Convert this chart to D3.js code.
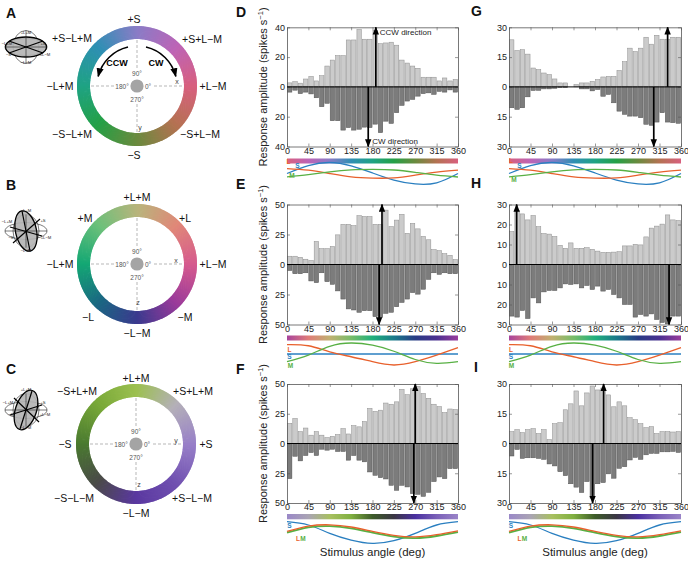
<!DOCTYPE html>
<html><head><meta charset="utf-8">
<script src="https://cdn.jsdelivr.net/npm/d3@7"></script>
<style>body{margin:0;background:#fff}text{font-family:"Liberation Sans",Arial,Helvetica,sans-serif}</style>
</head><body><svg id="c" width="688" height="561"></svg>
<script>
// ---------------- DATA ----------------
const angleTicks = [0,45,90,135,180,225,270,315,360];
const binWidth = 11.25;

// panel D (plane A)
const D_ccw = [2.7,3.5,2.5,5.3,7,4,7.5,14,18,21,21,31.5,31.5,38.5,32,32,38,29,29.5,30,28,18,16,14,12.5,6.5,6.5,6.5,4,6,4,5];
const D_cw  = [3.5,2.2,4.5,3.5,4.7,7.3,13.3,11,22.7,22.7,29,27.3,29,28.4,27,27.3,25,30.7,23,24.5,17.3,12.4,9.5,8.4,6.2,4.5,4,5,3,3.5,2,3.5];
// panel G (plane A)
const G_ccw = [23.7,18.3,18.7,16.5,9.5,8.7,7,6.2,4,2,2,0,1.2,2,2,2.8,3.7,5,5.3,5.3,8.3,12.7,19.5,17.8,19.5,25,21.5,26,24,24,25,25];
const G_cw  = [10.5,11.3,10.5,5,1.8,1.7,1,1,0.7,0.3,0.3,0,0,1,1,2,1.3,4.7,3.8,8,12.2,13.8,14.7,14.7,15.5,18.8,19.3,17.7,13,17.7,18,18.3];
// panel E (plane B)
const E_ccw = [6.9,6.9,6,4.4,3.3,19.2,13.2,13.2,15,24.7,33.5,33.5,32.4,40.7,40,40,33.5,33.5,45.3,31.6,37,41.8,26,34.3,29.7,23.4,20.6,12.4,11.5,9,7.7,4.1];
const E_cw  = [5,7.7,7.7,6.9,13.7,15.1,6.9,14.3,16.5,22,28.8,37,37.9,39.8,38.5,38.5,43.4,44,40.7,39.8,35.2,31.6,28.8,23.4,24.7,20.6,12.4,6.9,8.2,6.9,7.7,7.7];
// panel H (plane B)
const H_ccw = [16.5,27,25.3,22.3,24.5,18.9,15.5,15.2,14,9.6,8.1,10.8,8.1,8.1,8.4,7.6,6.7,6.1,6.1,6.2,6.4,9.3,9.3,10.1,9.8,13.8,18.2,19.2,20.2,24.8,22.3,22];
const H_cw  = [25.8,26.3,23,27,16.7,19.2,13.7,13,13,11.7,9.7,10,9.7,11.7,10.5,12.5,10.8,13.3,12.5,15,16.7,20,20,26.3,25,25.8,24.7,27.5,29,29.7,25.8,25.8];
// panel F (plane C)
const F_ccw = [17,21,10,13,7,10,7,5,6,7.5,12.5,8,15,14,18.5,29.5,27,28,34,33,35,45.5,41,46,48,42,38,33,31,26,29,28.5];
const F_cw  = [29.5,10.7,14.6,10.1,7.6,10.1,4.8,5.6,4.8,6.7,6.7,14,10.1,14,15.4,23.9,26.7,28.7,29.8,35.1,39.3,35.1,36.5,42.1,42.7,44.4,41,32,28.1,29.5,21.1,21.1];
// panel I (plane C)
const I_ccw = [6,7,5.5,7,7.5,5,7,2,10,10.5,17,20,26.5,19,25.5,29,27,28,24.5,18.5,21,19,13,12,10,8,8.5,5,6,6,5.8,6];
const I_cw  = [6.3,3,7.5,7.2,7.2,7.5,8,10.3,11.3,14.2,16.2,20.3,22,24.7,19.2,27.5,20.3,19.7,15.3,17.5,12.5,11.7,8.3,7,8,5.7,5,5,4.2,4.2,4,4.5];

// preferred directions (deg): [CCW, CW]
const D_dir = [187,171], G_dir = [332,303], E_dir = [200,194], H_dir = [16,335], F_dir = [270,267], I_dir = [198,175];

// cone-contrast curves sampled at angleTicks (normalized)
const coneA_L = [0.45,0.3,0.0,-0.3,-0.42,-0.4,-0.15,0.12,0.3];
const coneA_M = [-0.3,-0.1,0.15,0.33,0.37,0.32,0.1,-0.15,-0.32];
const coneA_S = [0,0.72,1,0.7,0.05,-0.6,-0.95,-0.85,0];
const coneB_L = [0.85,0.75,0.2,-0.25,-0.7,-1.0,-0.7,-0.1,0.57];
const coneB_M = [-0.7,-0.1,0.7,1.0,0.8,0.25,-0.5,-0.85,-0.7];
const coneB_S = [0,0,0,0,0,0,0,0,0];
const coneC_LM = [0,0.48,0.6,0.4,0,-0.36,-0.5,-0.3,0.05];
const coneC_S = [1.0,0.7,-0.06,-0.67,-0.97,-0.73,-0.06,0.7,1.0];

// colours of the stimulus planes at angleTicks
const colorsA = ["#d8607e","#bd64b6","#8a7cc6","#2f8fb4","#1fa384","#24a046","#6a8a3e","#b47252","#d8607e"];
const colorsB = ["#d65a8e","#e08878","#b8b47c","#6cc07a","#14a874","#1a6882","#3a3a8e","#9a3a9a","#d65a8e"];
const barColorsB = ["#a8449c","#e07c78","#c0b070","#78bc68","#20b07c","#1a7a8a","#283c84","#4a3090","#9a3c9c"];
const colorsC = ["#9880c8","#b4b0b8","#9cc050","#78a838","#4a7a30","#4a4a48","#5a38a0","#7050b0","#9880c8"];
const barColorsC = ["#9a88c8","#aaa4b4","#a8c060","#80b040","#3e5c2a","#3a3644","#4a30a0","#7a60b8","#9a84c8"];

const ringLabelsA = ["+L−M","+S+L−M","+S","+S−L+M","−L+M","−S−L+M","−S","−S+L−M"];
const ringLabelsB = ["+L−M","+L","+L+M","+M","−L+M","−L","−L−M","−M"];
const ringLabelsC = ["+S","+S+L+M","+L+M","−S+L+M","−S","−S−L−M","−L−M","+S−L−M"];
const iconLabels = ["+L+M","−L+M","+S","−S","+L−M","−L−M"];

// ---------------- DRAW ----------------
const svg = d3.select("#c");
const defs = svg.append("defs");
defs.append("marker").attr("id","ah").attr("viewBox","0 0 10 8").attr("refX",9).attr("refY",4)
  .attr("markerWidth",8).attr("markerHeight",7).attr("markerUnits","userSpaceOnUse").attr("orient","auto")
  .append("path").attr("d","M0,0L10,4L0,8Z").attr("fill","#000");
defs.append("marker").attr("id","ah2").attr("viewBox","0 0 10 8").attr("refX",9).attr("refY",4)
  .attr("markerWidth",9).attr("markerHeight",8).attr("markerUnits","userSpaceOnUse").attr("orient","auto")
  .append("path").attr("d","M0,0L10,4L0,8Z").attr("fill","#000");

// panel letters
const letters = [["A",6,18],["B",6,190],["C",6,374],["D",236,17],["E",236,189],["F",236,374],["G",471,16],["H",471,188],["I",474,372]];
svg.selectAll("text.lt").data(letters).join("text").attr("class","lt")
  .attr("x",d=>d[1]).attr("y",d=>d[2]).text(d=>d[0])
  .attr("font-size",14).attr("font-weight","bold").attr("fill","#111");

// ---- rings ----
const labelOffsets = {
  A: [[76,0],[65,-47],[-3,-67],[-65,-48],[-77,0],[-65,48],[-3,69],[63,48]],
  B: [[76,0],[48,-46],[0,-67],[-52,-46],[-77,0],[-49,53],[0,69],[48,53]],
  C: [[70,0],[57,-53],[0,-66],[-59,-53],[-71,0],[-62,54],[0,69],[56,54]]
};
function ring(cx, cy, colors, labels, offs, axLabels){
  const g = svg.append("g").attr("transform",`translate(${cx},${cy})`);
  const col = d3.scaleLinear().domain(angleTicks).range(colors).interpolate(d3.interpolateRgb);
  const arc = d3.arc().innerRadius(47).outerRadius(60);
  const rad = Math.PI/180;
  g.append("g").selectAll("path").data(d3.range(0,360,1)).join("path")
    .attr("d", t => arc({startAngle:(90-t-1.5)*rad, endAngle:(90-t+0.3)*rad}))
    .attr("fill", t => col(t+0.5));
  const dash = [[[-46,0],[-22,0]],[[17,0],[46,0]],[[0,-46],[0,-17]],[[0,18],[0,46]]];
  g.append("g").selectAll("line").data(dash).join("line")
    .attr("x1",d=>d[0][0]).attr("y1",d=>d[0][1]).attr("x2",d=>d[1][0]).attr("y2",d=>d[1][1])
    .attr("stroke","#9a9a9a").attr("stroke-width",0.7).attr("stroke-dasharray","3,2");
  g.append("circle").attr("r",6.6).attr("fill","#a4a4a4");
  const cl = [["90°",0,-12],["270°",0,14],["180°",-15,1],["0°",11,1]];
  g.append("g").selectAll("text").data(cl).join("text").attr("x",d=>d[1]).attr("y",d=>d[2]).attr("dy","0.35em")
    .attr("text-anchor","middle").attr("font-size",6.5).attr("fill","#555").text(d=>d[0]);
  g.append("g").selectAll("text").data(axLabels).join("text").attr("x",d=>d[1]).attr("y",d=>d[2]).attr("dy","0.35em")
    .attr("text-anchor","middle").attr("font-size",7).attr("fill","#444").text(d=>d[0]);
  g.append("g").selectAll("text").data(labels).join("text")
    .attr("x",(d,i)=>offs[i][0]).attr("y",(d,i)=>offs[i][1]).attr("dy","0.35em")
    .attr("text-anchor","middle").attr("font-size",10.5).attr("fill","#111").text(d=>d);
  return g;
}
const gA = ring(137,86,colorsA,ringLabelsA,labelOffsets.A,[["x",40,-4],["y",3,42]]);
ring(137,264,colorsB,ringLabelsB,labelOffsets.B,[["x",39,-3],["z",1,39]]);
ring(136,444,colorsC,ringLabelsC,labelOffsets.C,[["y",40,-3],["z",3,41]]);

// CCW / CW arrows in ring A
function arcPath(r, a0, a1){ // visual degrees
  const p = d3.path(); const rad=Math.PI/180;
  p.moveTo(r*Math.cos(a0*rad), -r*Math.sin(a0*rad));
  p.arc(0,0,r,-a0*rad,-a1*rad,a1>a0);
  return p.toString();
}
gA.append("path").attr("d",arcPath(40,103,166)).attr("fill","none").attr("stroke","#000").attr("stroke-width",1.6).attr("marker-end","url(#ah2)");
gA.append("path").attr("d",arcPath(40,77,14)).attr("fill","none").attr("stroke","#000").attr("stroke-width",1.6).attr("marker-end","url(#ah2)");
gA.append("text").attr("x",-20).attr("y",-20).attr("text-anchor","middle").attr("font-size",9).attr("font-weight","bold").text("CCW");
gA.append("text").attr("x",19).attr("y",-20).attr("text-anchor","middle").attr("font-size",9).attr("font-weight","bold").text("CW");

// ---- small sphere icons ----
function icon(cx, cy, sh, chords, lblPos){
  const g = svg.append("g").attr("transform",`translate(${cx},${cy})`);
  g.append("ellipse").attr("rx",21).attr("ry",8.5).attr("fill","none").attr("stroke","#222").attr("stroke-width",0.6);
  g.append("ellipse").attr("rx",13).attr("ry",16.5).attr("fill","none").attr("stroke","#222").attr("stroke-width",0.6);
  g.append("ellipse").attr("rx",sh[0]).attr("ry",sh[1]).attr("transform",`rotate(${sh[2]})`)
    .attr("fill","#b2b2b2").attr("fill-opacity",0.9).attr("stroke","#000").attr("stroke-width",1.3);
  g.append("line").attr("x1",-21).attr("x2",21).attr("stroke","#222").attr("stroke-width",0.6);
  g.append("line").attr("y1",-16.5).attr("y2",16.5).attr("stroke","#222").attr("stroke-width",0.6);
  g.append("g").selectAll("line").data(chords).join("line")
    .attr("x1",d=>d[0]).attr("y1",d=>d[1]).attr("x2",d=>d[2]).attr("y2",d=>d[3])
    .attr("stroke","#000").attr("stroke-width",1.2);
  g.append("g").selectAll("text").data(iconLabels).join("text")
    .attr("x",(d,i)=>lblPos[i][0]).attr("y",(d,i)=>lblPos[i][1]).attr("dy","0.35em")
    .attr("text-anchor","middle").attr("font-size",4.2).attr("fill","#222").text(d=>d);
}
const iconLbl = [[0,-14.5],[-19,-3.5],[17,-3.5],[-17.5,8],[19,8],[0,15.5]];
icon(26,47,[20.5,10,0],[[-17,-6,17,6],[-17,6,17,-6]],iconLbl);
icon(26,231,[10.5,20.5,-12],[[-4,-20,4,20],[-16,-4,16,5],[14,-12,-13,12]],[[0,-20],[-19,-9],[17,-10],[-15,7],[20,7],[0,20]]);
icon(26,410,[10.5,20.5,18],[[6,-19,-6,19],[-16,5,16,-5],[-12,-12,13,12]],[[0,-20],[-18,-7],[17,-7],[-15,5],[19,5],[0,18]]);

// ---- bar charts ----
const rows = [
  {top:27.3, bot:146.5, cb:158.5, cbh:5, cone:173.5},
  {top:204.5, bot:324.5, cb:335.5, cbh:5, cone:354},
  {top:384, bot:503, cb:514, cbh:5.3, cone:532.7}
];
const cols = [{x0:287,x1:458},{x0:509,x1:681}];
const LCOL="#e8602c", MCOL="#58b044", SCOL="#2a7fc0";

const charts = [
  {id:"D",r:0,c:0,max:40,step:20,up:D_ccw,dn:D_cw,dir:D_dir,bar:colorsA,plane:"A",
   cl:[["L",288.5,161.5,LCOL],["S",297.5,166,SCOL],["M",292,176,MCOL]]},
  {id:"G",r:0,c:1,max:30,step:15,up:G_ccw,dn:G_cw,dir:G_dir,bar:colorsA,plane:"A",
   cl:[["L",511,160.5,LCOL],["S",519.5,166,SCOL],["M",514,180,MCOL]]},
  {id:"E",r:1,c:0,max:50,step:25,up:E_ccw,dn:E_cw,dir:E_dir,bar:barColorsB,plane:"B",
   cl:[["L",289.5,349.5,LCOL],["S",289.5,356.5,SCOL],["M",290.5,366,MCOL]]},
  {id:"H",r:1,c:1,max:30,step:10,up:H_ccw,dn:H_cw,dir:H_dir,bar:barColorsB,plane:"B",
   cl:[["L",511,349.5,LCOL],["S",511,356.5,SCOL],["M",511.5,366,MCOL]]},
  {id:"F",r:2,c:0,max:50,step:25,up:F_ccw,dn:F_cw,dir:F_dir,bar:barColorsC,plane:"C",
   cl:[["S",289.5,526,SCOL],["L",298,538.5,LCOL],["M",303,538.5,MCOL]]},
  {id:"I",r:2,c:1,max:30,step:15,up:I_ccw,dn:I_cw,dir:I_dir,bar:barColorsC,plane:"C",
   cl:[["S",511,526,SCOL],["L",519.5,538.5,LCOL],["M",524.5,538.5,MCOL]]}
];
const cones = {
  A:[[coneA_S,SCOL,1.3,0],[coneA_L,LCOL,1.3,0],[coneA_M,MCOL,1.3,0]],
  B:[[coneB_S,SCOL,1.3,0],[coneB_L,LCOL,1.3,0],[coneB_M,MCOL,1.3,0]],
  C:[[coneC_S,SCOL,1.3,0],[coneC_LM,MCOL,1.8,0],[coneC_LM,LCOL,1.3,-1.3]]
};

charts.forEach(ch=>{
  const R=rows[ch.r], C=cols[ch.c];
  const x = d3.scaleLinear().domain([0,360]).range([C.x0,C.x1]);
  const y = d3.scaleLinear().domain([-ch.max,ch.max]).range([R.bot,R.top]);
  const g = svg.append("g");
  const yt = d3.range(-ch.max, ch.max+0.001, ch.step);
  const bw = x(binWidth)-x(0);
  g.append("g").selectAll("rect").data(ch.up).join("rect")
    .attr("x",(d,i)=>x(i*binWidth)+0.45).attr("width",bw-0.9)
    .attr("y",d=>y(d)).attr("height",d=>y(0)-y(d))
    .attr("fill","#cbcbcb").attr("stroke","#8e8e8e").attr("stroke-width",0.5);
  g.append("g").selectAll("rect").data(ch.dn).join("rect")
    .attr("x",(d,i)=>x(i*binWidth)+0.45).attr("width",bw-0.9)
    .attr("y",y(0)).attr("height",d=>y(-d)-y(0))
    .attr("fill","#7c7c7c").attr("stroke","#505050").attr("stroke-width",0.5);
  // axes / frame
  const fmt = d=>Math.abs(d);
  const ax = (a)=>a.tickSizeOuter(0);
  const gb = g.append("g").attr("transform",`translate(0,${R.bot})`).call(ax(d3.axisBottom(x).tickValues(angleTicks).tickSize(-3).tickPadding(1)));
  const gt = g.append("g").attr("transform",`translate(0,${R.top})`).call(ax(d3.axisTop(x).tickValues(angleTicks).tickSize(-3).tickFormat("")));
  const gl = g.append("g").attr("transform",`translate(${C.x0},0)`).call(ax(d3.axisLeft(y).tickValues(yt).tickSize(-3).tickPadding(2).tickFormat(fmt)));
  const gr = g.append("g").attr("transform",`translate(${C.x1},0)`).call(ax(d3.axisRight(y).tickValues(yt).tickSize(-3).tickFormat("")));
  [gb,gt,gl,gr].forEach(a=>{
    a.select(".domain").attr("stroke","#555").attr("stroke-width",0.8);
    a.selectAll(".tick line").attr("stroke","#555").attr("stroke-width",0.6);
    a.selectAll("text").attr("font-size",9).attr("fill","#222").attr("font-family",'"Liberation Sans",Arial,sans-serif');
  });
  // zero line
  g.append("line").attr("x1",C.x0).attr("x2",C.x1).attr("y1",y(0)).attr("y2",y(0)).attr("stroke","#000").attr("stroke-width",1);
  // arrows
  g.append("line").attr("x1",x(ch.dir[0])).attr("x2",x(ch.dir[0])).attr("y1",y(0)).attr("y2",y(ch.max))
    .attr("stroke","#000").attr("stroke-width",1.7).attr("marker-end","url(#ah)");
  g.append("line").attr("x1",x(ch.dir[1])).attr("x2",x(ch.dir[1])).attr("y1",y(0)).attr("y2",y(-ch.max))
    .attr("stroke","#000").attr("stroke-width",1.7).attr("marker-end","url(#ah)");
  if(ch.id==="D"){
    g.append("text").attr("x",x(ch.dir[0])+4).attr("y",y(ch.max)+7.5).attr("font-size",8).attr("fill","#222").text("CCW direction");
    g.append("text").attr("x",x(ch.dir[1])+4).attr("y",y(-ch.max)-2.5).attr("font-size",8).attr("fill","#222").text("CW direction");
  }
  // colour bar
  const gid = "grad"+ch.id;
  const lg = defs.append("linearGradient").attr("id",gid).attr("x1","0%").attr("x2","100%");
  lg.selectAll("stop").data(angleTicks).join("stop").attr("offset",d=>(d/360*100)+"%").attr("stop-color",(d,i)=>ch.bar[i]);
  g.append("rect").attr("x",C.x0).attr("width",C.x1-C.x0).attr("y",R.cb).attr("height",R.cbh).attr("fill",`url(#${gid})`);
  // cone curves
  const yc = d3.scaleLinear().domain([-1,1]).range([R.cone+11,R.cone-11]);
  cones[ch.plane].forEach(([vals,color,w,off])=>{
    const line = d3.line().x((d,i)=>x(angleTicks[i])).y(d=>yc(d)+off).curve(d3.curveNatural);
    g.append("path").attr("d",line(vals)).attr("fill","none").attr("stroke",color).attr("stroke-width",w);
  });
  g.append("g").selectAll("text").data(ch.cl).join("text").attr("x",d=>d[1]).attr("y",d=>d[2]).attr("dy","0.35em")
    .attr("text-anchor","middle").attr("font-size",6.5).attr("font-weight","bold").attr("fill",d=>d[3]).text(d=>d[0]);
  // y label for left column
  if(ch.c===0){
    const t = svg.append("text").attr("transform",`translate(263,${(R.top+R.bot)/2}) rotate(-90)`)
      .attr("text-anchor","middle").attr("dy","0.35em").attr("font-size",11).attr("fill","#222");
    t.append("tspan").text("Response amplitude (spikes s");
    t.append("tspan").attr("dy",-4).attr("font-size",7.5).text("−1");
    t.append("tspan").attr("dy",4).text(")");
  }
  if(ch.r===2){
    svg.append("text").attr("x",(C.x0+C.x1)/2).attr("y",556).attr("text-anchor","middle")
      .attr("font-size",11.5).attr("fill","#222").text("Stimulus angle (deg)");
  }
});
</script></body></html>
